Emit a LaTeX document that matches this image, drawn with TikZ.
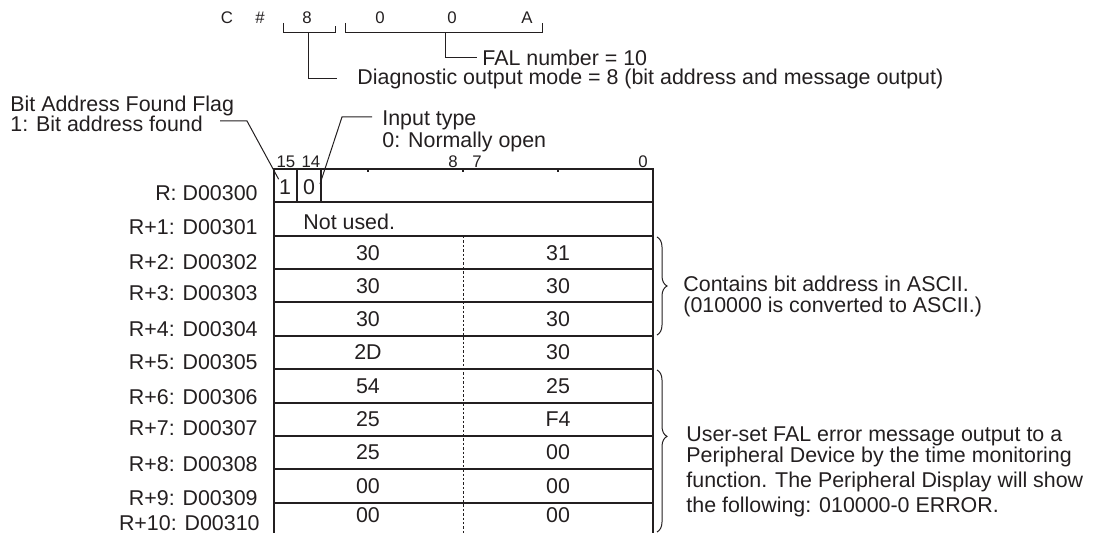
\documentclass[tikz,border=0pt]{standalone}
\usepackage{fontspec}
\setmainfont{Liberation Sans}
\usetikzlibrary{decorations.pathreplacing}
\definecolor{ink}{RGB}{35,31,32}

\begin{document}
\begin{tikzpicture}[
    x=0.5pt, y=-0.5pt,
    every node/.style={inner sep=0pt, text=ink},
    txt/.style={font=\fontsize{10.7}{12.5}\selectfont},
    bitno/.style={font=\fontsize{8.4}{10}\selectfont},
    tbl/.style={draw=ink, line width=0.8pt},
    lead/.style={draw=ink, line width=0.5pt},
    half/.style={draw=ink, line width=0.5pt, dash pattern=on 1.2pt off 1pt},
    curly/.style={draw=ink, line width=0.5pt, decorate,
        decoration={brace, amplitude=5pt}}
]
    \useasboundingbox (0,0) rectangle (1094,533);

    % operand C#800A
    \node[bitno] (cc) at (227,18) {C};
    \node[bitno] (hash) at (260,18) {\#};
    \node[bitno] (d8) at (307,18) {8};
    \node[bitno] (d0a) at (380,18) {0};
    \node[bitno] (d0b) at (452,18) {0};
    \node[bitno] (dA) at (527,18) {A};
    \draw[lead] (283,23) -- (283,33) -- (335,33) -- (335,26);
    \draw[lead] (345,23) -- (345,33) -- (542,33) -- (542,23);
    \coordinate (modeb) at (308,33);
    \coordinate (falb) at (445,33);

    \node[txt, anchor=west] (fal) at (482,58) {FAL number = 10};
    \node[txt, anchor=west] (mode) at (357,79) {Diagnostic output mode = 8 (bit address and message output)};
    \draw[lead] (falb) |- ([xshift=-2.5pt]fal.west);
    \draw[lead] (modeb) |- ([xshift=-10pt]mode.west);

    % flag and input type notes
    \node[txt, anchor=west, align=left] (flag) at (10,114) {Bit Address Found Flag\\[-2.5pt]1: Bit address found};
    \node[txt, anchor=west, align=left] (itype) at (382,131) {Input type\\[-1.5pt]0: Normally open};
    \coordinate (flagst) at (220,121);
    \coordinate (typest) at (372,117);

    % bit numbers
    \node[bitno] (n15) at (286,162) {15};
    \node[bitno] (n14) at (311,162) {14};
    \node[bitno] (n8) at (453,162) {8};
    \node[bitno] (n7) at (477,162) {7};
    \node[bitno] (n0) at (643,162) {0};

    % words
    \draw[tbl] (274,533) -- (274,169) -- (653,169) -- (653,533);
    \foreach \y in {202,236,269,302,336,369,403,436,469,503}
        \draw[tbl] (274,\y) -- (653,\y);
    \draw[tbl] (297,169) -- (297,202) (321,169) -- (321,202);
    \draw[tbl] (368,169) -- (368,172) (463,169) -- (463,172) (558,169) -- (558,172);
    \draw[half] (463,236) -- (463,533);

    \node[txt] (b15) at (285,187) {1};
    \node[txt] (b14) at (309,187) {0};
    \coordinate (typeend) at (320,184);
    \draw[lead] (flagst) -- (247,121) -- (b15.north west);
    \draw[lead] (typest) -- (342,117) -- (typeend);

    \node[txt, anchor=west] (nu) at (303,222) {Not used.};

    % addresses
    \node[txt, anchor=east] (r0) at (258,193) {R: D00300};
    \node[txt, anchor=east] (r1) at (258,227) {R+1: D00301};
    \node[txt, anchor=east] (r2) at (258,262) {R+2: D00302};
    \node[txt, anchor=east] (r3) at (258,293) {R+3: D00303};
    \node[txt, anchor=east] (r4) at (258,329) {R+4: D00304};
    \node[txt, anchor=east] (r5) at (258,362) {R+5: D00305};
    \node[txt, anchor=east] (r6) at (258,397) {R+6: D00306};
    \node[txt, anchor=east] (r7) at (258,428) {R+7: D00307};
    \node[txt, anchor=east] (r8) at (258,464) {R+8: D00308};
    \node[txt, anchor=east] (r9) at (258,498) {R+9: D00309};
    \node[txt, anchor=east] (r10) at (260,523) {R+10: D00310};

    % contents
    \node[txt] (v2a) at (368,253) {30};
    \node[txt] (v2b) at (558,253) {31};
    \node[txt] (v3a) at (368,286) {30};
    \node[txt] (v3b) at (558,286) {30};
    \node[txt] (v4a) at (368,319) {30};
    \node[txt] (v4b) at (558,319) {30};
    \node[txt] (v5a) at (368,352) {2D};
    \node[txt] (v5b) at (558,352) {30};
    \node[txt] (v6a) at (368,386) {54};
    \node[txt] (v6b) at (558,386) {25};
    \node[txt] (v7a) at (368,419) {25};
    \node[txt] (v7b) at (558,419) {F4};
    \node[txt] (v8a) at (368,452) {25};
    \node[txt] (v8b) at (558,452) {00};
    \node[txt] (v9a) at (368,486) {00};
    \node[txt] (v9b) at (558,486) {00};
    \node[txt] (v10a) at (368,515) {00};
    \node[txt] (v10b) at (558,515) {00};

    % braces
    \draw[curly] (657,237) -- (657,335);
    \draw[curly, decoration={aspect=0.41}] (657,370) -- (657,532);
    \node[txt, anchor=west, align=left] (ascii) at (683,296) {Contains bit address in ASCII.\\[-2pt](010000 is converted to ASCII.)};
    \node[txt, anchor=west, align=left] (msg) at (686,472) {User-set FAL error message output to a\\[-2pt]Peripheral Device by the time monitoring\\function. The Peripheral Display will show\\the following: 010000-0 ERROR.};
\end{tikzpicture}
\end{document}
